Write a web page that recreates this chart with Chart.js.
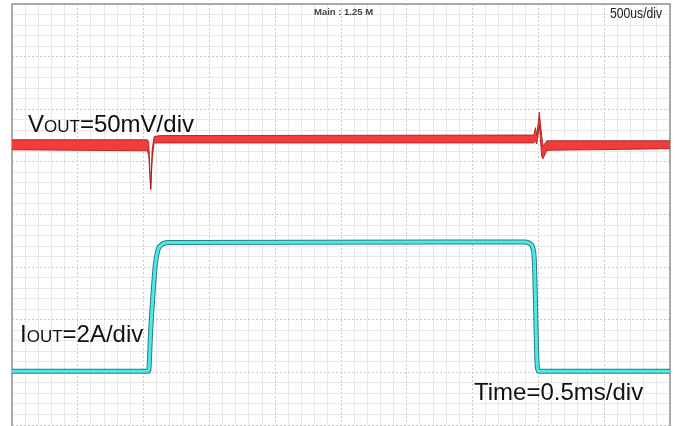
<!DOCTYPE html>
<html>
<head>
<meta charset="utf-8">
<script src="https://cdn.jsdelivr.net/npm/chart.js@4"></script>
<style>
  html, body { margin: 0; padding: 0; background: #ffffff; }
  #wrap { position: relative; width: 677px; height: 426px; overflow: hidden; }
  canvas { position: absolute; left: 0; top: 0; }
  .lbl { position: absolute; font-family: "Liberation Sans", Arial, sans-serif; color: #111; white-space: nowrap; line-height: 24px; font-size: 24px; }
  .sc { font-size: 17px; }
  #main { position: absolute; left: 314px; top: 7px; font-family: "Liberation Sans", Arial, sans-serif; font-weight: bold; font-size: 9.5px; color: #444; white-space: nowrap; line-height: 10px; }
  #tdiv { position: absolute; left: 610px; top: 6px; font-family: "Liberation Sans", Arial, sans-serif; font-size: 14px; color: #222; white-space: nowrap; line-height: 14px; transform: scaleX(0.87); transform-origin: left top; }
</style>
</head>
<body>
<div id="wrap">
  <canvas id="c" width="677" height="426"></canvas>
  <div class="lbl" style="left:28px; top:112px;">V<span class="sc">OUT</span>=50mV/div</div>
  <div class="lbl" style="left:20px; top:322px;">I<span class="sc">OUT</span>=2A/div</div>
  <div class="lbl" style="left:474px; top:380px;">Time=0.5ms/div</div>
  <div id="main">Main : 1.25 M</div>
  <div id="tdiv">500us/div</div>
</div>
<script>
// Time axis in ms (0.5 ms per division, 10 divisions)
const redTime = [0, 1.028, 1.039, 1.054, 1.065, 1.08, 1.125, 3.965, 3.978, 3.988, 4.007, 4.025, 4.035, 4.065, 5];
// VOUT trace envelope (screen divisions, 0..8)
const vHigh = [5.42, 5.42, 5.38, 4.49, 5.23, 5.48, 5.50, 5.51, 5.65, 5.50, 5.94, 5.50, 5.30, 5.40, 5.40];
const vLow  = [5.23, 5.21, 5.13, 4.47, 5.04, 5.36, 5.36, 5.36, 5.40, 5.34, 5.70, 5.10, 5.06, 5.22, 5.25];
// IOUT trace (screen divisions)
const cyanTime = [0, 1.038, 1.054, 1.089, 1.108, 1.134, 1.187, 3.897, 3.935, 3.958, 3.969, 3.992, 4.003, 5];
const iOut = [1.02, 1.02, 1.80, 3.04, 3.32, 3.42, 3.467, 3.476, 3.448, 3.36, 3.13, 1.095, 1.02, 1.02];

const toPts = (xs, ys) => xs.map((x, i) => ({x: x, y: ys[i]}));

const DARK_RED = 'rgb(170,30,30)';
const RED = 'rgb(242,60,60)';
const DARK_TEAL = 'rgb(45,125,125)';
const CYAN = 'rgb(75,234,234)';

const minorGrid = '#e8e8e8';
const majorGrid = '#c8c8c8';
const frame = '#a9a9a9';

const isMajor = (v, step) => Math.abs(v / step - Math.round(v / step)) < 1e-6;

new Chart(document.getElementById('c'), {
  type: 'line',
  data: {
    datasets: [
      { data: toPts(cyanTime, iOut), borderColor: CYAN, borderWidth: 3, pointRadius: 0, fill: false, cubicInterpolationMode: 'monotone', order: 0 },
      { data: toPts(cyanTime, iOut), borderColor: DARK_TEAL, borderWidth: 5, pointRadius: 0, fill: false, cubicInterpolationMode: 'monotone', order: 1 },
      { data: toPts(redTime, vHigh), borderColor: DARK_RED, borderWidth: 0.9, pointRadius: 0, fill: false, tension: 0, order: 2 },
      { data: toPts(redTime, vLow), borderColor: DARK_RED, borderWidth: 0.9, pointRadius: 0, fill: '-1', backgroundColor: RED, tension: 0, order: 3 }
    ]
  },
  options: {
    responsive: false,
    animation: false,
    devicePixelRatio: 1,
    layout: { padding: { left: 12, right: 7, top: 4, bottom: 1 } },
    plugins: { legend: { display: false }, tooltip: { enabled: false } },
    scales: {
      x: { type: 'linear', min: 0, max: 5, position: 'top',
           ticks: { display: false, stepSize: 0.1, maxTicksLimit: 200 },
           grid: { color: (c) => (c.tick && isMajor(c.tick.value, 0.5)) ? 'rgba(0,0,0,0)' : minorGrid, lineWidth: 1, drawTicks: false },
           border: { display: true, color: frame, width: 2 } },
      xMaj: { type: 'linear', min: 0, max: 5, position: 'bottom',
           ticks: { display: false, stepSize: 0.5, maxTicksLimit: 200 },
           grid: { color: majorGrid, lineWidth: 1, drawTicks: false },
           border: { display: false, dash: [2, 2] } },
      y: { type: 'linear', min: 0, max: 8, position: 'left',
           ticks: { display: false, stepSize: 0.2, maxTicksLimit: 200 },
           grid: { color: (c) => (c.tick && isMajor(c.tick.value, 1)) ? 'rgba(0,0,0,0)' : minorGrid, lineWidth: 1, drawTicks: false },
           border: { display: true, color: frame, width: 2 } },
      yMaj: { type: 'linear', min: 0, max: 8, position: 'right',
           ticks: { display: false, stepSize: 1, maxTicksLimit: 200 },
           grid: { color: majorGrid, lineWidth: 1, drawTicks: false },
           border: { display: false, dash: [2, 2] } },
      yFrame: { type: 'linear', min: 0, max: 8, position: 'right',
           ticks: { display: false },
           grid: { display: false, drawTicks: false },
           border: { display: true, color: frame, width: 2 } }
    }
  }
});
</script>
</body>
</html>
